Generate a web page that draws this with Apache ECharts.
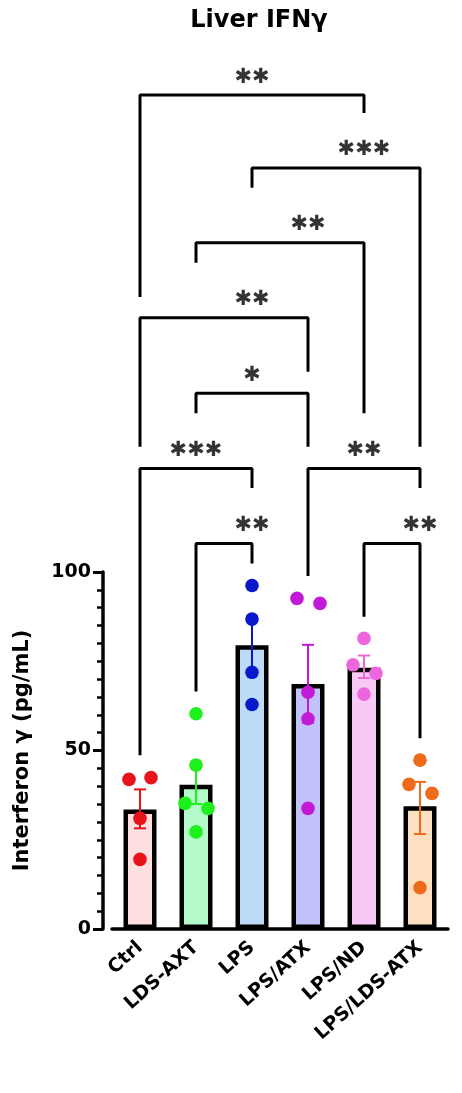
<!DOCTYPE html>
<html><head><meta charset="utf-8">
<script src="https://cdn.jsdelivr.net/npm/echarts@6/dist/echarts.min.js"></script>
<style>html,body{margin:0;padding:0;background:#fff}#c{width:462px;height:1093px}</style>
</head><body><div id="c"></div>
<script>
const categories = ['Ctrl','LDS-AXT','LPS','LPS/ATX','LPS/ND','LPS/LDS-ATX'];
const means = [33.5, 40.4, 79.5, 68.6, 73.2, 34.4];
const semLow = [28.2, 35.0, 72.0, 57.8, 70.3, 26.6];
const semHigh = [39.1, 45.9, 87.0, 79.6, 76.6, 41.2];
const points = [
  [41.9, 42.4, 31.0, 19.5],
  [60.3, 45.9, 35.2, 33.8, 27.2],
  [96.2, 86.8, 71.9, 62.9],
  [92.6, 91.2, 66.3, 58.9, 33.8],
  [81.4, 74.0, 71.6, 65.8],
  [47.3, 40.5, 38.0, 11.6]
];
const jitter = [
  [-11, 11, 0, 0],
  [0, 0, -11, 12, 0],
  [0, 0, 0, 0],
  [-11, 12, 0, 0, 0],
  [0, -11, 12, 0],
  [0, -11, 12, 0]
];
const fills = ['#fde0df','#b5fbc9','#bedcf7','#c1c1fb','#f9c9f5','#fde0c2'];
const dots = ['#e8141b','#1ef01e','#0a18cc','#c21ad6','#ee66dd','#ef6a1a'];
// brackets: [from, to, top, leftEnd, rightEnd, label]
const brackets = [
  [0,4,233.6,177.0,228.6,'✱✱'],
  [2,5,213.2,207.6,135.1,'✱✱✱'],
  [1,4,192.2,186.6,144.5,'✱✱'],
  [0,3,171.2,135.1,156.1,'✱✱'],
  [1,3,150.1,144.5,135.1,'✱'],
  [0,2,129.0,48.7,123.5,'✱✱✱'],
  [3,5,129.0,98.9,123.5,'✱✱'],
  [1,2,108.0,66.5,102.4,'✱✱'],
  [4,5,108.0,87.5,53.4,'✱✱']
];

const chart = echarts.init(document.getElementById('c'));
const F = 'Liberation Sans, Arial, sans-serif';
const D = 'DejaVu Sans, sans-serif';
const gridL = 112, gridR = 14, gridB = 164;
const series = [];
series.push({type:'bar', xAxisIndex:0, yAxisIndex:0, barWidth:33,
  data: means.map((v,i)=>({value:v, itemStyle:{color:fills[i]}})),
  itemStyle:{borderColor:'#000', borderWidth:4.5}, z:2});
series.push({type:'custom', xAxisIndex:0, yAxisIndex:0, z:3,
  data: means.map((m,i)=>[i, semLow[i], semHigh[i]]),
  renderItem:(p,api)=>{
    const i=api.value(0);
    const lo=api.coord([i,api.value(1)]), hi=api.coord([i,api.value(2)]);
    const c=dots[i], w=6, st={stroke:c,lineWidth:2};
    return {type:'group',children:[
      {type:'line',shape:{x1:lo[0],y1:lo[1],x2:hi[0],y2:hi[1]},style:st},
      {type:'line',shape:{x1:lo[0]-w,y1:lo[1],x2:lo[0]+w,y2:lo[1]},style:st},
      {type:'line',shape:{x1:hi[0]-w,y1:hi[1],x2:hi[0]+w,y2:hi[1]},style:st}]};
  }});
const pd=[];
points.forEach((arr,i)=>arr.forEach((v,j)=>pd.push([i,v,jitter[i][j]])));
series.push({type:'custom', xAxisIndex:0, yAxisIndex:0, z:4, data:pd,
  renderItem:(p,api)=>{
    const i=api.value(0); const c=api.coord([i,api.value(1)]);
    return {type:'circle',shape:{cx:c[0]+api.value(2),cy:c[1],r:6.8},style:{fill:dots[i]}};
  }});
brackets.forEach(b=>{
  series.push({type:'line', xAxisIndex:1, yAxisIndex:1, symbol:'none', silent:true,
    lineStyle:{color:'#000',width:3}, data:[[b[0],b[3]],[b[0],b[2]],[b[1],b[2]],[b[1],b[4]]]});
  series.push({type:'scatter', xAxisIndex:1, yAxisIndex:1, symbolSize:0, silent:true,
    data:[[(b[0]+b[1])/2, b[2]]],
    label:{show:true, position:'top', distance:7, formatter:b[5], color:'#000',
      fontFamily:D, fontWeight:'bold', fontSize:21, lineHeight:22}});
});

chart.setOption({
  animation:false,
  title:{text:'Liver IFNγ', left:254, top:4, textAlign:'center',
    textStyle:{fontFamily:D, fontWeight:'bold', fontSize:24, color:'#000'}},
  grid:[
    {left:gridL, right:gridR, top:572, bottom:gridB},
    {left:gridL, right:gridR, top:36.5, bottom:gridB}
  ],
  xAxis:[
    {type:'category', gridIndex:0, data:categories,
      axisLine:{lineStyle:{color:'#000',width:3.5}},
      axisTick:{alignWithLabel:true, length:10, lineStyle:{color:'#000',width:3}},
      axisLabel:{rotate:42, margin:16, color:'#000', fontFamily:D, fontWeight:'bold', fontSize:19, interval:0}},
    {type:'category', gridIndex:1, data:categories, show:false}
  ],
  yAxis:[
    {type:'value', gridIndex:0, min:0, max:100, interval:50, offset:9,
      name:'Interferon γ (pg/mL)', nameLocation:'middle', nameGap:70,
      nameTextStyle:{fontFamily:D, fontWeight:'bold', fontSize:21, color:'#000'},
      axisLine:{show:true, lineStyle:{color:'#000',width:3.5}},
      axisTick:{show:true, length:10, lineStyle:{color:'#000',width:3}},
      minorTick:{show:true, splitNumber:10, length:6, lineStyle:{color:'#000',width:2.5}},
      splitLine:{show:false},
      axisLabel:{color:'#000', fontFamily:D, fontWeight:'bold', fontSize:19, margin:12}},
    {type:'value', gridIndex:1, min:0, max:250, show:false, splitLine:{show:false}}
  ],
  series
});
</script></body></html>
